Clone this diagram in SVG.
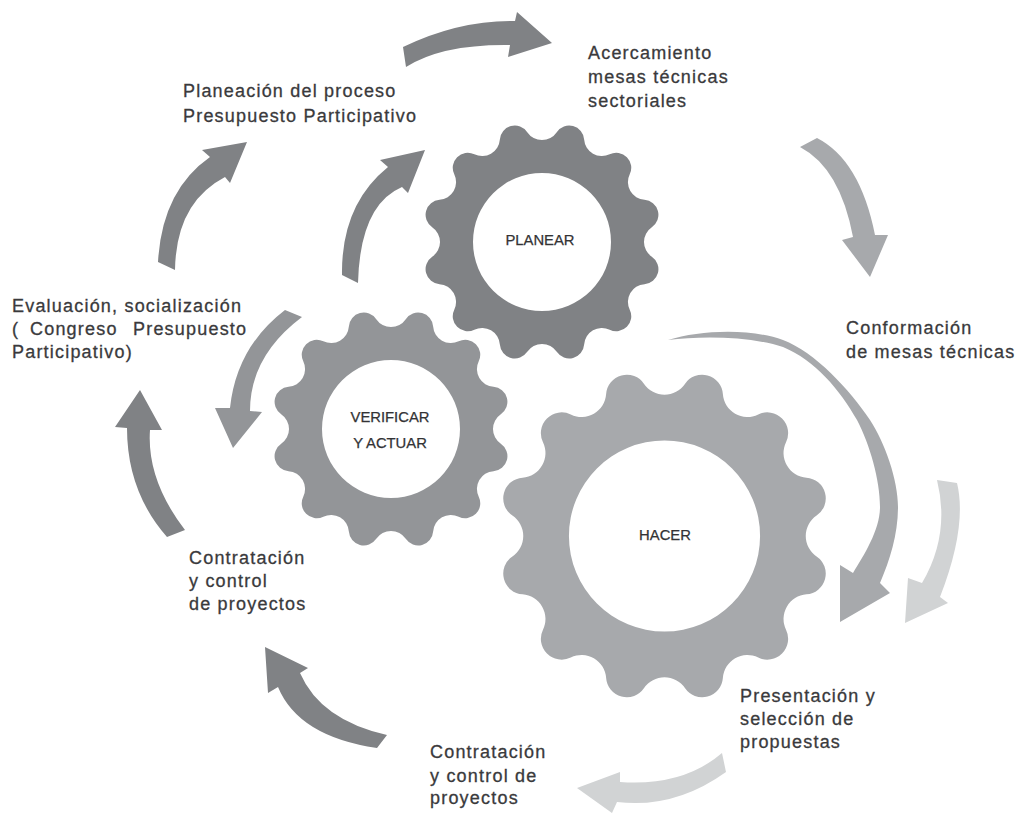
<svg xmlns="http://www.w3.org/2000/svg" xmlns:xlink="http://www.w3.org/1999/xlink" width="1020" height="814" viewBox="0 0 1020 814">
<style>
.lbl{font-family:"Liberation Sans",Arial,Helvetica,sans-serif;font-size:18px;letter-spacing:1.2px;fill:#3a3a3c;stroke:#3a3a3c;stroke-width:0.3px}
.glbl{font-family:"Liberation Sans",Arial,Helvetica,sans-serif;font-size:14.8px;fill:#333335;stroke:#333335;stroke-width:0.25px;text-anchor:middle}
.dark{fill:#808285}
.mid{fill:#939598}
.lite{fill:#a7a9ac}
.pale{fill:#d1d3d4}
</style>
<defs>
<path id="gear" fill-rule="evenodd" d="M14.75,-109.82 A15,15 0 0 1 42.14,-102.48 A17.8,17.8 0 0 0 67.68,-87.74 A15,15 0 0 1 87.74,-67.68 A17.8,17.8 0 0 0 102.48,-42.14 A15,15 0 0 1 109.82,-14.75 A17.8,17.8 0 0 0 109.82,14.75 A15,15 0 0 1 102.48,42.14 A17.8,17.8 0 0 0 87.74,67.68 A15,15 0 0 1 67.68,87.74 A17.8,17.8 0 0 0 42.14,102.48 A15,15 0 0 1 14.75,109.82 A17.8,17.8 0 0 0 -14.75,109.82 A15,15 0 0 1 -42.14,102.48 A17.8,17.8 0 0 0 -67.68,87.74 A15,15 0 0 1 -87.74,67.68 A17.8,17.8 0 0 0 -102.48,42.14 A15,15 0 0 1 -109.82,14.75 A17.8,17.8 0 0 0 -109.82,-14.75 A15,15 0 0 1 -102.48,-42.14 A17.8,17.8 0 0 0 -87.74,-67.68 A15,15 0 0 1 -67.68,-87.74 A17.8,17.8 0 0 0 -42.14,-102.48 A15,15 0 0 1 -14.75,-109.82 A17.8,17.8 0 0 0 14.75,-109.82 Z M69,0 A69,69 0 1 0 -69,0 A69,69 0 1 0 69,0 Z"/>
</defs>
<rect width="1020" height="814" fill="#ffffff"/>

<g id="gear-planear">
<use xlink:href="#gear" href="#gear" class="dark" transform="translate(542,242)"/>
<text class="glbl" x="540" y="245">PLANEAR</text>
</g>
<g id="gear-verificar">
<use xlink:href="#gear" href="#gear" class="mid" transform="translate(391,429)"/>
<text class="glbl" x="390" y="422">VERIFICAR</text>
<text class="glbl" x="390" y="448">Y ACTUAR</text>
</g>
<g id="gear-hacer">
<use xlink:href="#gear" href="#gear" class="lite" transform="translate(664.5,536) scale(1.385)"/>
<text class="glbl" x="665" y="540">HACER</text>
</g>

<g id="connectors">
<path class="dark" d="M403,47 Q459,20 515,21 L517,12 L552,43 L508,57 L510,45 Q442,44 406,67 Z"/>
<path class="dark" d="M158,262 Q162,190.5 210,157 L202,150 L247,142 L230,183 L225,177 Q176,202.5 175,270 Z"/>
<path class="dark" d="M342,275 Q341,205 388,167 L380,160 L425,150 L408,193 L402,187 Q360,205 358,283 Z"/>
<path class="mid" d="M285,310 Q236.5,347 230,408 L215,408 L233,448 L262,412 L250,411 Q250,356 302,317 Z"/>
<path class="dark" d="M127,428 Q127,491.5 167,537 L185,530 Q146.5,480 150,430 L162,430 L140,390 L115,427 Z"/>
<path class="dark" d="M265,647 L308,668 L300,673 Q320.5,720 387,735 L377,748 Q298.5,736.5 278,687 L268,693 Z"/>
<path class="pale" d="M577,788 L620,772 L620,782 Q683,786.5 722,753 L726,772 Q674.5,809 617,802 L612,813 Z"/>
<path class="pale" d="M937,480 Q950.5,534.5 922,583 L908,578 L905,623 L948,603 L940,597 Q967.5,526 957,483 Z"/>
<path class="lite" d="M800,147 Q840,168 853,237 L842,240 L870,277 L888,235 L875,235 Q860,160 817,138 Z"/>
<path class="lite" d="M668,340 C700,330 750,328 783,340 C815,352 850,390 870,420 C885,443 898,480 898,507 C898,534 890,560 880,583 L890,593 L840,622 L840,565 L853,573 C864,555 880,530 880,507 C880,480 870,445 857,420 C840,390 815,360 783,347 C750,336 700,336 668,340 Z"/>
</g>

<g id="label-planeacion">
<text class="lbl" x="183" y="97">Planeación del proceso</text>
<text class="lbl" x="183" y="122">Presupuesto Participativo</text>
</g>
<g id="label-acercamiento">
<text class="lbl" x="588" y="59">Acercamiento</text>
<text class="lbl" x="588" y="83">mesas técnicas</text>
<text class="lbl" x="588" y="106.5">sectoriales</text>
</g>
<g id="label-conformacion">
<text class="lbl" x="846" y="334">Conformación</text>
<text class="lbl" x="846" y="358">de mesas técnicas</text>
</g>
<g id="label-evaluacion">
<text class="lbl" x="12" y="312">Evaluación, socialización</text>
<text class="lbl" y="335"><tspan x="12">(</tspan><tspan x="30">Congreso</tspan><tspan x="133">Presupuesto</tspan></text>
<text class="lbl" x="12" y="358">Participativo)</text>
</g>
<g id="label-contratacion-1">
<text class="lbl" x="189" y="564">Contratación</text>
<text class="lbl" x="189" y="587">y control</text>
<text class="lbl" x="189" y="610">de proyectos</text>
</g>
<g id="label-presentacion">
<text class="lbl" x="740" y="702">Presentación y</text>
<text class="lbl" x="740" y="725">selección de</text>
<text class="lbl" x="740" y="747.5">propuestas</text>
</g>
<g id="label-contratacion-2">
<text class="lbl" x="430" y="758">Contratación</text>
<text class="lbl" x="430" y="781.5">y control de</text>
<text class="lbl" x="430" y="803.5">proyectos</text>
</g>
</svg>
